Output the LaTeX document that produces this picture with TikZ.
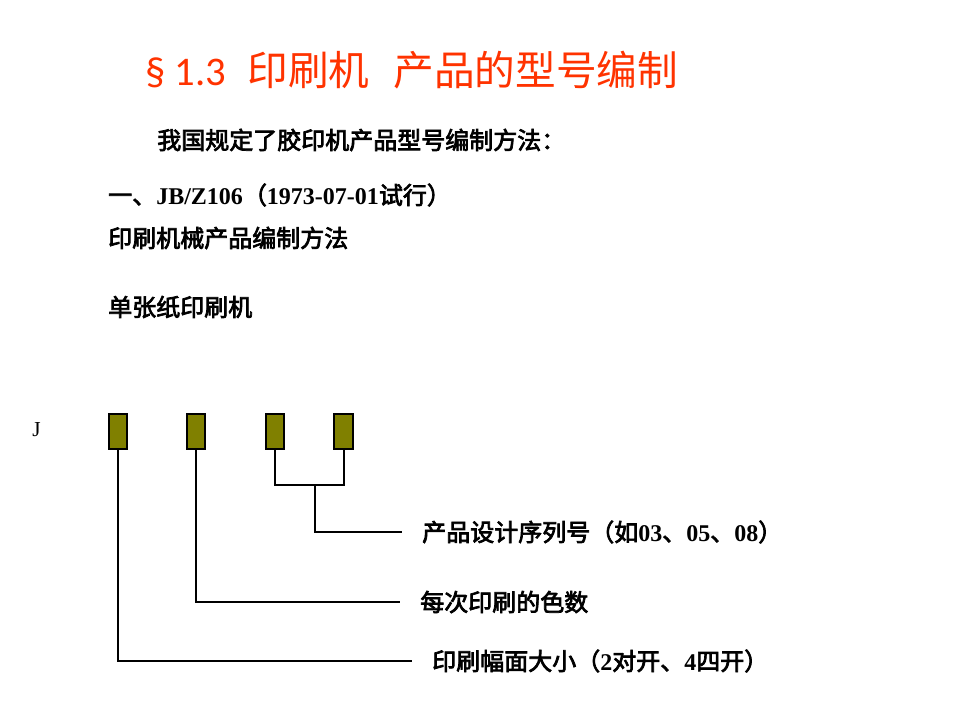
\documentclass[tikz,border=0pt]{standalone}
\usepackage{fontspec}
\setmainfont{Liberation Serif}
\newfontfamily\cjk{Noto Sans CJK SC}[BoldFont={Noto Sans CJK SC},BoldFeatures={FakeBold=3}]
\newfontfamily\headlatin{Carlito}
\usetikzlibrary{positioning}
\definecolor{PMTitle}{HTML}{FF3300}
\definecolor{PMOlive}{HTML}{808000}
\definecolor{PMInk}{HTML}{000000}
\tikzset{
  codebox/.style={draw=PMInk,line width=1.5pt,fill=PMOlive,minimum width=14pt,
                  minimum height=26.5pt,inner sep=0pt},
  lead/.style={draw=PMInk,line width=1.5pt},
  headline/.style={text=PMTitle,font=\fontsize{30.5}{36}\selectfont,anchor=west,inner sep=0pt},
  bodytext/.style={text=PMInk,font=\fontsize{18}{22}\selectfont\bfseries,anchor=west,inner sep=0pt},
  note/.style={bodytext,inner xsep=15pt,inner ysep=2pt},
  prefixtext/.style={text=PMInk,font=\fontsize{16}{19}\selectfont,anchor=west,inner sep=0pt},
}

\begin{document}
\begin{tikzpicture}[x=0.75pt,y=-0.75pt]
    \useasboundingbox (0,0) rectangle (960,720);

    \node[headline] (title) at (145,70)
      {{\headlatin § 1.3}\hspace{16pt}{\cjk 印刷机\hspace{18pt}产品的型号编制}};

    \node[bodytext] (decree) at (157,140) {\cjk 我国规定了胶印机产品型号编制方法：};
    \node[bodytext] (std) at (108,195) {{\cjk 一、}JB/Z106{\cjk （}1973-07-01{\cjk 试行）}};
    \node[bodytext] (method) at (108,238) {\cjk 印刷机械产品编制方法};
    \node[bodytext] (kind) at (108,307) {\cjk 单张纸印刷机};

    \node[prefixtext] (prefix) at (32,430) {J};
    \node[codebox] (b1) at (118,431.5) {};
    \node[codebox] (b2) at (196,431.5) {};
    \node[codebox] (b3) at (275,431.5) {};
    \node[codebox] (b4) at (343.5,431.5) {};

    \node[note] (serial) at (402,532) {{\cjk 产品设计序列号（如}03{\cjk 、}05{\cjk 、}08{\cjk ）}};
    \node[note] (colours) at (400,602) {\cjk 每次印刷的色数};
    \node[note] (size) at (412,661) {{\cjk 印刷幅面大小（}2{\cjk 对开、}4{\cjk 四开）}};

    \coordinate (join) at (315,485);
    \draw[lead] (b3.south) |- (join) -| (b4.south);
    \draw[lead] (join) |- (serial.west);
    \draw[lead] (b2.south) |- (colours.west);
    \draw[lead] (b1.south) |- (size.west);
\end{tikzpicture}
\end{document}
